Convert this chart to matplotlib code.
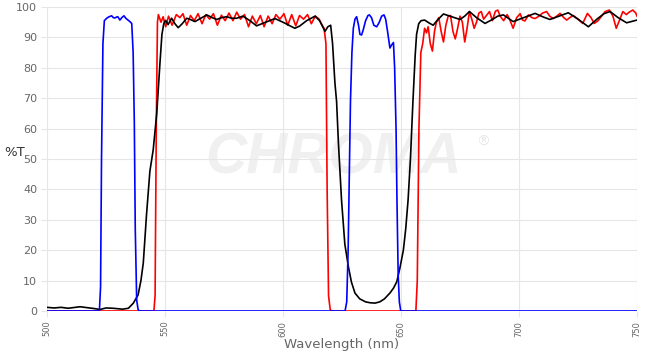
import matplotlib
matplotlib.use('Agg')
import matplotlib.pyplot as plt


# Widma transmisji trzech filtrów.
niebieski_nm = [500, 522.2, 522.7, 523.1, 523.7, 524.3, 525.3, 526.3, 527.4, 528.1,
                528.8, 529.5, 530, 530.9, 531.8, 532.6, 533.5, 534.5, 535.4, 535.9,
                536.5, 537, 537.4, 538, 538.6, 539.1, 626.3, 627, 627.6, 628.2,
                628.6, 629.2, 629.8, 630.5, 631.2, 632, 632.6, 633.3, 634, 635,
                636, 636.6, 637.5, 638.5, 639.7, 640.8, 641.8, 642.8, 643.5, 644.3,
                645.3, 646, 646.8, 647.3, 647.9, 648.3, 648.8, 649.3, 649.9, 750]
niebieski_t = [0, 0, 8, 50, 88, 95.5, 96.3, 96.8, 97.1, 96.5,
               96.4, 96.7, 96.8, 95.7, 96.6, 97.1, 96.2, 95.6, 95, 94.6,
               85, 62, 27, 3.6, 0.5, 0, 0, 3, 20, 50,
               69.4, 85, 93, 96, 96.8, 94, 91, 90.8, 92.5, 95.5,
               97.2, 97.4, 96.5, 94, 93.5, 95, 97, 97.4, 96, 92,
               86.5, 87.5, 88.3, 80, 60, 36, 12, 3, 0, 0]

czerwony_nm = [500, 545.3, 545.8, 546.3, 546.8, 547.2, 548.3, 549.2, 550.3, 551.5,
               553, 554.8, 556.3, 557.6, 559.2, 560.8, 562.4, 564, 565.7, 567.3,
               568.9, 570.5, 572.2, 573.9, 575.5, 577.1, 578.8, 580.4, 582, 583.7,
               585.4, 587, 588.7, 590.4, 592, 593.7, 595.4, 597, 598.7, 600.4,
               602, 603.7, 605.4, 607, 608.7, 610.4, 612, 613.7, 615.3, 616.6,
               617.4, 618.2, 618.7, 619.3, 620, 620.6, 656.3,
               656.9, 657.6, 658.4, 659.2, 660, 660.8, 661.5, 662.4, 663.3, 664.2,
               665, 666, 667, 668, 669, 670, 671, 672, 673, 674,
               675, 676, 677, 678, 679, 680, 681, 682, 683, 684,
               685, 686, 687.5, 688.7, 690, 691, 692, 693.5, 695, 696,
               697.5, 699, 700.5, 701.5, 702.5, 704, 705.5, 706.8, 708.5, 710,
               711.7, 713, 714.5, 716, 717.4, 719, 720.2, 721.5, 723, 725,
               727, 729, 730.5, 731.9, 733.5, 735, 736.5, 738.3, 739.8, 741.2,
               742.5, 744, 745.5, 746.5, 748.2, 749.5, 750]
czerwony_t = [0, 0, 5, 60, 95, 97.5, 95, 96.8, 93.5, 97,
              94, 97.5, 96.5, 97.8, 94, 97.2, 95.5, 97.8, 94.5, 97.5,
              96, 97.8, 94, 97.3, 95.5, 98, 95.5, 98.3, 96, 97.5,
              93.5, 97, 94.5, 97.2, 93.5, 97, 94.5, 97.5, 96, 97.8,
              94, 97.5, 93.8, 97.2, 96, 97.5, 94.5, 97, 96, 94,
              93, 88, 40, 5, 0.5, 0, 0,
              10, 60, 85, 88, 93, 91.5, 93.5, 88, 85.5, 92,
              95, 96.5, 92, 88.5, 94, 97, 97.2, 92, 89.5, 93,
              97, 95, 88.5, 93, 98.5, 96, 93, 95, 98, 98.5,
              96, 97, 98.5, 95.5, 98.6, 99, 97, 95.5, 97.5, 96,
              93, 96.5, 97.8, 95.7, 95.4, 97.4, 96.5, 96.2, 97, 98,
              98.5, 97, 96.2, 97, 97.9, 96.5, 95.7, 96.5, 97.2, 96,
              94.6, 97.9, 96.5, 94.6, 95.5, 97, 98.5, 99, 97, 93,
              95.5, 98.5, 97.5, 98.2, 99, 98, 97]

czarny_nm = [500, 503, 506, 509, 512, 514, 517, 520, 522.5, 525,
             528, 532, 534.5, 536.6, 538.6, 539.8, 540.8, 542.2, 543.6, 545,
             546.5, 547.9, 548.7, 549.5, 550.3, 551.3, 552.8, 554.2, 555.6, 557.3,
             559.2, 561, 562.7, 564.5, 567.7, 570, 571.9, 574, 576.1, 578.3,
             580.4, 583, 586, 588.8, 592, 596.6, 600.5, 605, 607, 610,
             613.6, 615.5, 617.8, 619, 620.2, 621, 622, 622.7, 623.5, 624.8,
             626.2, 627.7, 629, 630.5, 632.5, 635, 637, 639, 641, 643,
             645.3, 646.8, 648.2, 649.5, 651, 652, 653, 654, 655, 656,
             656.6, 657.5, 658.5, 660, 661.8, 663.6, 665.8, 668, 671.5, 675,
             677, 679, 682, 685.6, 688.5, 691, 693.4, 697.5, 702, 706.8,
             710, 713.1, 717, 720.9, 725, 729.4, 733, 736, 738.6, 742,
             745.6, 748, 750]
czarny_t = [1.2, 1.0, 1.2, 0.9, 1.2, 1.4, 1.1, 0.8, 0.5, 1.0,
            0.9, 0.6, 0.9, 2.6, 5.3, 10, 15.8, 32, 46, 53,
            65, 82, 91, 94.6, 95.6, 94.2, 96.3, 94.5, 93.2, 94.5,
            96.3, 95.8, 95.2, 96, 97.4, 96.5, 95.9, 96.5, 96.8, 96.3,
            96.3, 97, 95.5, 93.8, 94.8, 96.2, 94.8, 93, 93.7, 95.5,
            97, 95.5, 92, 93.5, 94, 88, 75, 69, 55, 36.5,
            22, 14.6, 9.5, 5.9, 4, 3, 2.7, 2.6, 3, 4,
            5.9, 7.5, 9.6, 14, 20, 27, 36.5, 50, 68, 84,
            91, 94.5, 95.5, 95.7, 94.8, 94, 96, 97.7, 96.8, 95.9,
            97, 98.5, 96.5, 94.6, 95.8, 97, 97.4, 95.2, 96.5, 97.9,
            96.8, 95.9, 97, 98.1, 96, 93.5, 96, 97.8, 98.5, 96.5,
            94.8, 95.3, 95.7]

ZNACZNIKI_X = [500, 550, 600, 650, 700, 750]
ZNACZNIKI_Y = list(range(0, 101, 10))

SZARY = '#666666'
SIATKA = '#e6e6e6'


def main():
    fig = plt.figure(figsize=(6.52, 3.54), dpi=100)
    ax = fig.add_axes([47 / 652, 1 - 311 / 354, 590 / 652, 304 / 354])

    # Znak wodny w tle.
    ax.text(0.485, 0.5, 'CHROMA', transform=ax.transAxes, ha='center',
            va='center', fontsize=41, fontweight='bold', fontstyle='italic',
            family='Liberation Sans', color='#f0f0f0', zorder=0)
    ax.text(0.728, 0.555, '®', transform=ax.transAxes, ha='left',
            va='center', fontsize=10, color='#e8e8e8', zorder=0)

    ax.plot(czarny_nm, czarny_t, color='black', lw=1.2, zorder=3)
    ax.plot(niebieski_nm, niebieski_t, color='#0000ff', lw=1.2, zorder=4)
    ax.plot(czerwony_nm, czerwony_t, color='#ff0000', lw=1.2, zorder=2)

    ax.set_xlim(500, 750)
    ax.set_ylim(0, 100)
    ax.set_xticks(ZNACZNIKI_X)
    ax.set_yticks(ZNACZNIKI_Y)
    ax.set_xticklabels([str(x) for x in ZNACZNIKI_X], rotation=90)
    ax.grid(True, color=SIATKA, lw=0.8, zorder=0)
    ax.set_axisbelow(True)
    for bok in ax.spines.values():
        bok.set_visible(False)
    ax.tick_params(axis='x', length=4, color=SIATKA, labelsize=6,
                   labelcolor=SZARY, pad=3)
    ax.tick_params(axis='y', length=4, color=SIATKA, labelsize=8,
                   labelcolor=SZARY, pad=3)

    ax.set_xlabel('Wavelength (nm)', fontsize=9.5, color=SZARY, labelpad=1)
    fig.text(4 / 652, 1 - 152 / 354, '%T', fontsize=9.5, color='#333333',
             ha='left', va='center')

    fig.savefig('out.png', dpi=100)


if __name__ == '__main__':
    main()
